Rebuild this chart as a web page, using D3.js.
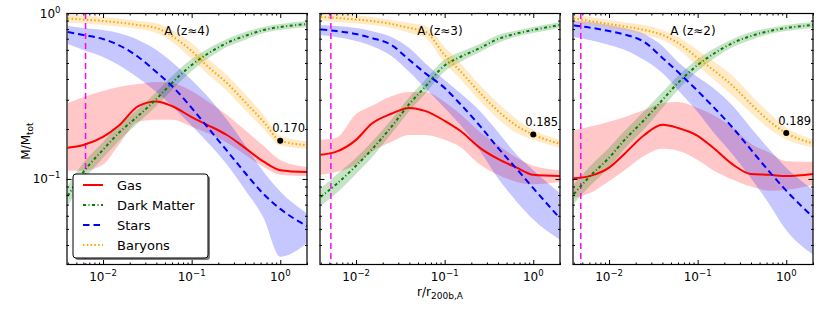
<!DOCTYPE html>
<html><head><meta charset="utf-8">
<script src="https://cdnjs.cloudflare.com/ajax/libs/d3/7.8.5/d3.min.js"></script>
<style>body{margin:0;background:#fff}svg{display:block}text{font-family:"DejaVu Sans",sans-serif;fill:#000}</style>
</head><body><svg id="c" width="830" height="312"></svg>
<script>
// ---------------- data ----------------
const radii = [0.004, 0.006, 0.01, 0.015, 0.025, 0.04, 0.06, 0.1, 0.15, 0.25, 0.4, 0.65, 1, 2];
const panelTitles = ["A (z\u22484)", "A (z\u22483)", "A (z\u22482)"];
const resolutionRadius = [0.00635, 0.0052, 0.0048];
const baryonAtR200 = [0.170, 0.185, 0.189];
const baryonLabels = ["0.170", "0.185", "0.189"];
const xMajorTicks = [0.01, 0.1, 1];
const xMajorExps = ["\u22122", "\u22121", "0"];
const yMajorTicks = [0.1, 1];
const yMajorExps = ["\u22121", "0"];
const legendNames = ["Gas", "Dark Matter", "Stars", "Baryons"];

// z ~ 4
const gasMid4 = [0.154, 0.160, 0.179, 0.209, 0.275, 0.293, 0.275, 0.236, 0.212, 0.184, 0.154, 0.127, 0.113, 0.110];
const gasLo4  = [0.112, 0.112, 0.122, 0.160, 0.221, 0.227, 0.227, 0.206, 0.189, 0.165, 0.140, 0.118, 0.106, 0.104];
const gasHi4  = [0.287, 0.312, 0.339, 0.358, 0.373, 0.384, 0.379, 0.339, 0.295, 0.243, 0.197, 0.158, 0.130, 0.118];
const dmMid4  = [0.079, 0.110, 0.150, 0.189, 0.240, 0.303, 0.379, 0.486, 0.566, 0.660, 0.727, 0.790, 0.823, 0.858];
const dmLo4   = [0.069, 0.097, 0.134, 0.169, 0.218, 0.275, 0.344, 0.447, 0.528, 0.624, 0.688, 0.758, 0.790, 0.823];
const dmHi4   = [0.091, 0.125, 0.167, 0.212, 0.264, 0.334, 0.417, 0.528, 0.607, 0.697, 0.768, 0.823, 0.858, 0.895];
const starsMid4 = [0.768, 0.737, 0.697, 0.641, 0.543, 0.441, 0.363, 0.268, 0.206, 0.148, 0.109, 0.081, 0.066, 0.052];
const starsLo4  = [0.651, 0.599, 0.543, 0.486, 0.406, 0.334, 0.275, 0.209, 0.167, 0.122, 0.086, 0.058, 0.034, 0.041];
const starsHi4  = [0.835, 0.812, 0.790, 0.758, 0.688, 0.599, 0.507, 0.395, 0.316, 0.227, 0.160, 0.110, 0.084, 0.062];
const baryMid4 = [0.928, 0.913, 0.895, 0.877, 0.846, 0.812, 0.727, 0.590, 0.479, 0.379, 0.291, 0.221, 0.170, 0.160];
const baryLo4  = [0.878, 0.864, 0.847, 0.829, 0.801, 0.758, 0.669, 0.528, 0.429, 0.339, 0.260, 0.200, 0.159, 0.152];
const baryHi4  = [0.981, 0.966, 0.946, 0.927, 0.895, 0.871, 0.790, 0.660, 0.536, 0.423, 0.325, 0.243, 0.182, 0.169];

// z ~ 3
const gasMid3 = [0.140, 0.146, 0.172, 0.215, 0.247, 0.268, 0.257, 0.224, 0.195, 0.154, 0.132, 0.117, 0.106, 0.104];
const gasLo3  = [0.106, 0.110, 0.122, 0.146, 0.167, 0.184, 0.184, 0.172, 0.156, 0.122, 0.106, 0.096, 0.093, 0.096];
const gasHi3  = [0.172, 0.177, 0.246, 0.275, 0.315, 0.334, 0.334, 0.291, 0.246, 0.192, 0.160, 0.134, 0.120, 0.113];
const dmMid3  = [0.078, 0.093, 0.120, 0.150, 0.206, 0.283, 0.358, 0.483, 0.543, 0.615, 0.697, 0.752, 0.790, 0.847];
const dmLo3   = [0.069, 0.082, 0.107, 0.134, 0.187, 0.257, 0.325, 0.444, 0.507, 0.582, 0.660, 0.722, 0.758, 0.812];
const dmHi3   = [0.088, 0.106, 0.134, 0.167, 0.227, 0.312, 0.395, 0.525, 0.582, 0.651, 0.737, 0.784, 0.823, 0.883];
const starsMid3 = [0.795, 0.779, 0.747, 0.707, 0.642, 0.521, 0.435, 0.353, 0.283, 0.209, 0.154, 0.115, 0.088, 0.058];
const starsLo3  = [0.737, 0.717, 0.678, 0.633, 0.551, 0.441, 0.353, 0.268, 0.212, 0.148, 0.101, 0.073, 0.057, 0.043];
const starsHi3  = [0.847, 0.835, 0.812, 0.779, 0.717, 0.615, 0.500, 0.395, 0.330, 0.257, 0.192, 0.140, 0.113, 0.082];
const baryMid3 = [0.946, 0.933, 0.914, 0.895, 0.858, 0.812, 0.774, 0.558, 0.447, 0.330, 0.257, 0.209, 0.185, 0.163];
const baryLo3  = [0.895, 0.883, 0.864, 0.847, 0.812, 0.758, 0.712, 0.500, 0.400, 0.295, 0.230, 0.189, 0.172, 0.154];
const baryHi3  = [1.000, 0.986, 0.966, 0.946, 0.907, 0.871, 0.841, 0.624, 0.500, 0.368, 0.287, 0.230, 0.198, 0.172];

// z ~ 2
const gasMid2 = [0.101, 0.104, 0.117, 0.142, 0.184, 0.212, 0.203, 0.182, 0.154, 0.122, 0.107, 0.106, 0.104, 0.107];
const gasLo2  = [0.077, 0.082, 0.097, 0.113, 0.138, 0.152, 0.148, 0.130, 0.113, 0.099, 0.090, 0.085, 0.086, 0.092];
const gasHi2  = [0.197, 0.206, 0.221, 0.236, 0.260, 0.287, 0.291, 0.268, 0.243, 0.203, 0.163, 0.144, 0.128, 0.127];
const dmMid2  = [0.081, 0.103, 0.134, 0.172, 0.227, 0.299, 0.379, 0.486, 0.566, 0.660, 0.727, 0.779, 0.812, 0.847];
const dmLo2   = [0.071, 0.090, 0.117, 0.152, 0.200, 0.268, 0.344, 0.447, 0.528, 0.624, 0.688, 0.747, 0.779, 0.812];
const dmHi2   = [0.093, 0.118, 0.154, 0.195, 0.257, 0.334, 0.417, 0.528, 0.607, 0.697, 0.768, 0.812, 0.847, 0.883];
const starsMid2 = [0.841, 0.818, 0.779, 0.742, 0.669, 0.536, 0.441, 0.339, 0.272, 0.203, 0.150, 0.110, 0.085, 0.059];
const starsLo2  = [0.717, 0.688, 0.642, 0.599, 0.521, 0.435, 0.344, 0.253, 0.192, 0.140, 0.101, 0.070, 0.049, 0.035];
const starsHi2  = [0.895, 0.883, 0.847, 0.812, 0.747, 0.633, 0.507, 0.411, 0.353, 0.275, 0.203, 0.150, 0.117, 0.086];
const baryMid2 = [0.927, 0.895, 0.858, 0.829, 0.790, 0.737, 0.660, 0.536, 0.454, 0.363, 0.283, 0.222, 0.189, 0.164];
const baryLo2  = [0.877, 0.847, 0.812, 0.784, 0.737, 0.688, 0.607, 0.479, 0.400, 0.316, 0.250, 0.199, 0.173, 0.155];
const baryHi2  = [0.979, 0.946, 0.907, 0.877, 0.847, 0.790, 0.717, 0.599, 0.514, 0.417, 0.321, 0.248, 0.204, 0.173];

// ---------------- styling ----------------
const styles = [
  {color: "#ff0000", dash: null, width: 2},
  {color: "#008000", dash: "3,2.5,1,2.5", width: 2},
  {color: "#0000ff", dash: "6.5,4", width: 2},
  {color: "#ffa500", dash: "1.5,2.3", width: 2}
];
const panels = [
  [[gasMid4, gasLo4, gasHi4], [dmMid4, dmLo4, dmHi4], [starsMid4, starsLo4, starsHi4], [baryMid4, baryLo4, baryHi4]],
  [[gasMid3, gasLo3, gasHi3], [dmMid3, dmLo3, dmHi3], [starsMid3, starsLo3, starsHi3], [baryMid3, baryLo3, baryHi3]],
  [[gasMid2, gasLo2, gasHi2], [dmMid2, dmLo2, dmHi2], [starsMid2, starsLo2, starsHi2], [baryMid2, baryLo2, baryHi2]]
];

const svg = d3.select("#c");
const W = 241, H = 252, TOP = 13;
const lefts = [66.5, 319.5, 572.5];
const x = d3.scaleLog().domain([0.00387, 2.03]).range([0, W]);
const y = d3.scaleLog().domain([0.0303, 1]).range([H, 0]);

const xMinor = [], yMinor = [];
for (let e = -3; e <= 0; e++) for (let k = 2; k <= 9; k++) {
  const v = k * Math.pow(10, e);
  if (v >= 0.00387 && v <= 2.03) xMinor.push(v);
  if (v >= 0.0303 && v < 1) yMinor.push(v);
}

function pow10(sel, exp) {
  sel.append("tspan").text("10");
  sel.append("tspan").attr("dy", -5).attr("font-size", 8.5).text(exp);
}

panels.forEach((series, p) => {
  const g = svg.append("g").attr("transform", `translate(${lefts[p]},${TOP})`);
  g.append("clipPath").attr("id", "clip" + p).append("rect").attr("width", W).attr("height", H);
  const plot = g.append("g").attr("clip-path", `url(#clip${p})`);

  // bands
  series.forEach((s, i) => {
    const pts = radii.map((r, j) => ({r, lo: s[1][j], hi: s[2][j]}));
    plot.append("path").datum(pts)
      .attr("d", d3.area().x(d => x(d.r)).y0(d => y(d.lo)).y1(d => y(d.hi)).curve(d3.curveMonotoneX))
      .attr("fill", styles[i].color).attr("fill-opacity", 0.22).attr("stroke", "none");
  });
  // resolution line
  plot.append("line").attr("x1", x(resolutionRadius[p])).attr("x2", x(resolutionRadius[p]))
    .attr("y1", 0).attr("y2", H).attr("stroke", "#ff00ff").attr("stroke-width", 1.5).attr("stroke-dasharray", "6,4");
  // lines
  series.forEach((s, i) => {
    const pts = radii.map((r, j) => ({r, v: s[0][j]}));
    plot.append("path").datum(pts)
      .attr("d", d3.line().x(d => x(d.r)).y(d => y(d.v)).curve(d3.curveMonotoneX))
      .attr("fill", "none").attr("stroke", styles[i].color).attr("stroke-width", styles[i].width)
      .attr("stroke-dasharray", styles[i].dash);
  });
  // baryon fraction marker
  plot.append("circle").attr("cx", x(1)).attr("cy", y(baryonAtR200[p])).attr("r", 3).attr("fill", "#000");
  g.append("text").attr("x", x(1) - 8).attr("y", y(baryonAtR200[p]) - 8.5).attr("font-size", 11.5).text(baryonLabels[p]);
  // title
  g.append("text").attr("x", W / 2).attr("y", 34.5 - TOP).attr("text-anchor", "middle").attr("font-size", 12).text(panelTitles[p]);

  // axes (inward ticks on all four sides)
  const axes = [
    [d3.axisBottom(x), `translate(0,${H})`, xMajorTicks, xMinor],
    [d3.axisTop(x), null, xMajorTicks, xMinor],
    [d3.axisLeft(y), null, yMajorTicks, yMinor],
    [d3.axisRight(y), `translate(${W},0)`, yMajorTicks, yMinor]
  ];
  axes.forEach(([ax, tr, maj, min]) => {
    [[maj, -5], [min, -2.5]].forEach(([vals, size]) => {
      const a = g.append("g").call(ax.tickValues(vals).tickSize(size).tickFormat(""));
      if (tr) a.attr("transform", tr);
      a.select(".domain").remove();
      a.selectAll("line").attr("stroke", "#000").attr("stroke-width", 1);
    });
  });
  g.append("rect").attr("x", 0.5).attr("y", 0.5).attr("width", W - 1).attr("height", H - 1)
    .attr("fill", "none").attr("stroke", "#000").attr("stroke-width", 1.2);

  // x tick labels
  xMajorTicks.forEach((t, k) => {
    const tx = g.append("text").attr("x", x(t)).attr("y", H + 16).attr("text-anchor", "middle").attr("font-size", 12);
    pow10(tx, xMajorExps[k]);
  });
  if (p === 0) {
    yMajorTicks.forEach((t, k) => {
      const ty = g.append("text").attr("x", -6).attr("y", y(t) + 4.5).attr("text-anchor", "end").attr("font-size", 12);
      pow10(ty, yMajorExps[k]);
    });
    // legend
    const lg = g.append("g").attr("transform", "translate(6.5,161)");
    lg.append("rect").attr("x", 2).attr("y", 2).attr("width", 135).attr("height", 84).attr("rx", 3)
      .attr("fill", "#000").attr("fill-opacity", 0.5);
    lg.append("rect").attr("x", 0).attr("y", 0).attr("width", 135).attr("height", 84).attr("rx", 3)
      .attr("fill", "#fff").attr("stroke", "#000").attr("stroke-width", 1);
    legendNames.forEach((name, i) => {
      const cy = 11 + i * 20;
      lg.append("line").attr("x1", 10).attr("x2", 30).attr("y1", cy).attr("y2", cy)
        .attr("stroke", styles[i].color).attr("stroke-width", styles[i].width)
        .attr("stroke-dasharray", styles[i].dash);
      lg.append("text").attr("x", 44).attr("y", cy + 5).attr("font-size", 13).text(name);
    });
  }
});

// axis titles
const yl = svg.append("text").attr("transform", "translate(30,141) rotate(-90)").attr("text-anchor", "middle").attr("font-size", 12);
yl.append("tspan").text("M/M");
yl.append("tspan").attr("dy", 3).attr("font-size", 9).text("tot");
const xl = svg.append("text").attr("x", 440).attr("y", 296).attr("text-anchor", "middle").attr("font-size", 12);
xl.append("tspan").text("r/r");
xl.append("tspan").attr("dy", 3).attr("font-size", 9).text("200b,A");
</script></body></html>
